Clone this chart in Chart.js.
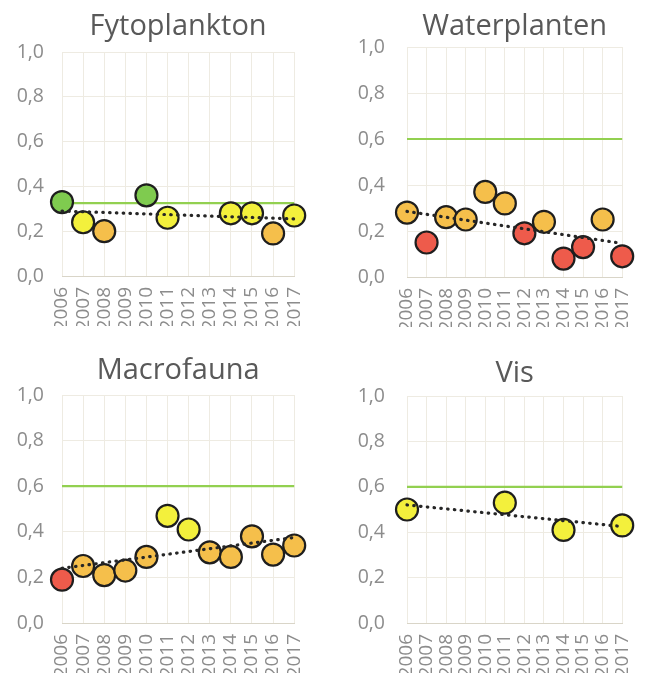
<!DOCTYPE html>
<html>
<head>
<meta charset="utf-8">
<title>Ecologische kwaliteit</title>
<script src="https://cdn.jsdelivr.net/npm/chart.js@4.4.1/dist/chart.umd.min.js"></script>
<style>
  html, body { margin: 0; padding: 0; background: #fff; overflow: hidden; }
  #wrap { position: relative; width: 656px; height: 678px; overflow: hidden; }
  .panel { position: absolute; }
</style>
</head>
<body>
<div id="wrap">
  <div class="panel" style="left:0;top:0"><canvas id="c-fyto" width="328" height="340"></canvas></div>
  <div class="panel" style="left:328px;top:0"><canvas id="c-water" width="328" height="340"></canvas></div>
  <div class="panel" style="left:0;top:340px"><canvas id="c-macro" width="328" height="360"></canvas></div>
  <div class="panel" style="left:328px;top:340px"><canvas id="c-vis" width="328" height="360"></canvas></div>
</div>
<script>
// --- Data ---
const years = ["2006", "2007", "2008", "2009", "2010", "2011", "2012", "2013", "2014", "2015", "2016", "2017"];
const yTickValues = [0, 0.2, 0.4, 0.6, 0.8, 1.0];

const fytoValues = [0.33, 0.24, 0.20, null, 0.36, 0.26, null, null, 0.28, 0.28, 0.19, 0.27];
const fytoStatus = ["g", "y", "o", null, "g", "y", null, null, "y", "y", "o", "y"];
const fytoTarget = 0.325;
const fytoTrend = [0.29, 0.255];

const waterValues = [0.28, 0.15, 0.26, 0.25, 0.37, 0.32, 0.19, 0.24, 0.08, 0.13, 0.25, 0.09];
const waterStatus = ["o", "r", "o", "o", "o", "o", "r", "o", "r", "r", "o", "r"];
const waterTarget = 0.6;
const waterTrend = [0.285, 0.146];

const macroValues = [0.19, 0.25, 0.21, 0.23, 0.29, 0.47, 0.41, 0.31, 0.29, 0.38, 0.30, 0.34];
const macroStatus = ["r", "o", "o", "o", "o", "y", "y", "o", "o", "o", "o", "o"];
const macroTarget = 0.6;
const macroTrend = [0.24, 0.375];

const visValues = [0.50, null, null, null, null, 0.53, null, null, 0.41, null, null, 0.43];
const visStatus = ["y", null, null, null, null, "y", null, null, "y", null, null, "y"];
const visTarget = 0.6;
const visTrend = [0.52, 0.425];

// --- Styling ---
const statusColors = { g: "#7fcb4f", y: "#f3f03c", o: "#f5bf4b", r: "#ee5b4b" };
const gridColor = "#eeebe2";
const tickColor = "#8c8c8c";
const fontFamily = "'Open Sans', sans-serif";

function makeChart(canvasId, name, values, status, target, trend, box) {
  const ctx = document.getElementById(canvasId);
  const first = years[0];
  const last = years[years.length - 1];

  return new Chart(ctx, {
    type: "line",
    data: {
      labels: years,
      datasets: [
        {
          // trendline (drawn on top)
          data: [{ x: first, y: trend[0] }, { x: last, y: trend[1] }],
          borderColor: "#262626",
          borderWidth: 3.2,
          borderDash: [0.5, 6.3],
          borderCapStyle: "round",
          pointRadius: 0,
          order: 0,
          clip: false,
        },
        {
          data: values,
          showLine: false,
          pointRadius: 11,
          pointBorderWidth: 2.2,
          pointBorderColor: "#1e1e1e",
          pointBackgroundColor: status.map((s) => (s ? statusColors[s] : "transparent")),
          order: 1,
          clip: false,
        },
        {
          // target line
          data: [{ x: first, y: target }, { x: last, y: target }],
          borderColor: "#92d050",
          borderWidth: 2.2,
          pointRadius: 0,
          order: 2,
          clip: false,
        },
      ],
    },
    options: {
      responsive: false,
      animation: false,
      layout: { padding: { left: 0, top: 0, right: box.padRight, bottom: box.padBottom } },
      plugins: {
        legend: { display: false },
        tooltip: { enabled: false },
        title: {
          display: true,
          text: name,
          fullSize: false,
          color: "#595959",
          font: { family: fontFamily, size: 29, weight: "normal", lineHeight: 1.2 },
          padding: { top: box.titleTop, bottom: box.titleBottom },
        },
      },
      scales: {
        x: {
          type: "category",
          offset: false,
          grid: { color: gridColor, drawTicks: false, lineWidth: 1 },
          border: { color: "#d9d5c8", width: 1 },
          ticks: {
            color: tickColor,
            font: { family: fontFamily, size: 19 },
            padding: 11,
            autoSkip: false,
            minRotation: 90,
            maxRotation: 90,
          },
          afterFit: (s) => { s.height = 50; },
        },
        y: {
          min: 0,
          max: 1,
          grid: { color: gridColor, drawTicks: false, lineWidth: 1 },
          border: { display: false },
          ticks: {
            color: tickColor,
            font: { family: fontFamily, size: 19.5 },
            padding: box.tickPad,
            callback: (v) => v.toFixed(1).replace(".", ","),
          },
          afterBuildTicks: (s) => { s.ticks = yTickValues.map((v) => ({ value: v })); },
          afterFit: (s) => { s.width = box.plotLeft; },
        },
      },
    },
  });
}

makeChart("c-fyto", "Fytoplankton", fytoValues, fytoStatus, fytoTarget, fytoTrend,
  { plotLeft: 62, padRight: 26, padBottom: 14, titleTop: 9, titleBottom: 8.2, tickPad: 18 });
makeChart("c-water", "Waterplanten", waterValues, waterStatus, waterTarget, waterTrend,
  { plotLeft: 79, padRight: 14, padBottom: 13, titleTop: 9, titleBottom: 3.2, tickPad: 22 });
makeChart("c-macro", "Macrofauna", macroValues, macroStatus, macroTarget, macroTrend,
  { plotLeft: 62, padRight: 26, padBottom: 27, titleTop: 13, titleBottom: 7.2, tickPad: 18 });
makeChart("c-vis", "Vis", visValues, visStatus, visTarget, visTrend,
  { plotLeft: 79, padRight: 14, padBottom: 27, titleTop: 16.5, titleBottom: 4.7, tickPad: 22 });
</script>
</body>
</html>
